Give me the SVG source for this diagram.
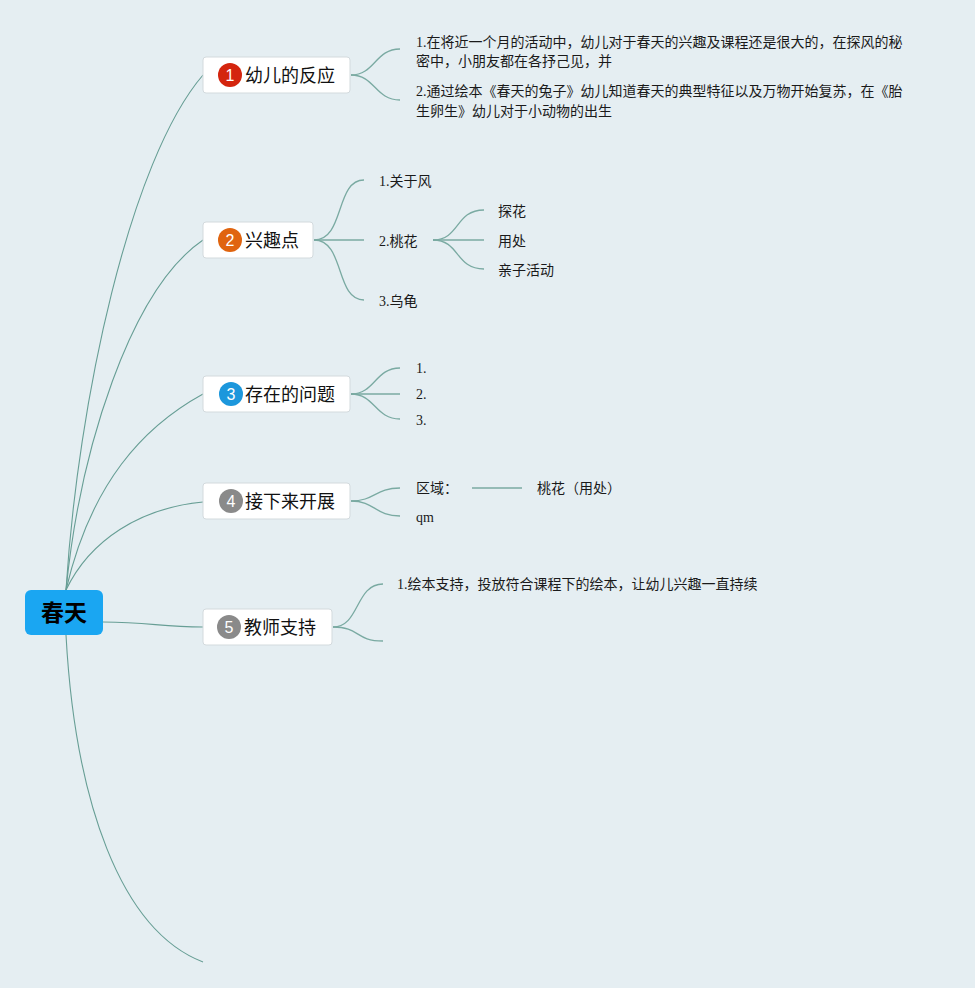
<svg xmlns="http://www.w3.org/2000/svg" width="975" height="988" viewBox="0 0 975 988">
<style>
.bg{fill:#e5eef2}
.box{fill:#ffffff;stroke:#d3dadd;stroke-width:1}
.root{fill:#1aa6f2}
.rt{font-family:"Noto Sans CJK SC",sans-serif;font-size:23px;font-weight:bold;fill:#000;text-anchor:middle}
.mt{font-family:"Noto Sans CJK SC",sans-serif;font-size:18px;fill:#111}
.bn{font-family:"Liberation Sans","Noto Sans",sans-serif;font-size:16px;fill:#fff;text-anchor:middle}
.st{font-family:"Liberation Serif","Noto Sans CJK SC",serif;font-size:14px;fill:#1a1a1a}
.cn{fill:none;stroke:#679e95;stroke-width:1.1}
.cs{fill:none;stroke:#7aaaa2;stroke-width:1.3}
</style>
<rect class="bg" x="0" y="0" width="975" height="988"/>
<g id="connectors">
<path class="cn" d="M66,590 C78,400 130,160 203,75"/>
<path class="cn" d="M66,590 C80,450 130,290 203,240"/>
<path class="cn" d="M66,590 C91,483 143,427 203,394"/>
<path class="cn" d="M66,590 C90,540 140,508 203,502"/>
<path class="cn" d="M103,622 C150,622 160,627 203,627"/>
<path class="cn" d="M66,635 C75,800 120,930 203,962"/>
<path class="cs" d="M351,75 C375,75 375,49 400,49"/>
<path class="cs" d="M351,75 C375,75 375,100 400,100"/>
<path class="cs" d="M314,240 C345,240 335,180 364,180"/>
<path class="cs" d="M314,240 L364,240"/>
<path class="cs" d="M314,240 C345,240 335,300 364,300"/>
<path class="cs" d="M433,240 C460,240 455,210 484,210"/>
<path class="cs" d="M433,240 L484,240"/>
<path class="cs" d="M433,240 C460,240 455,269 484,269"/>
<path class="cs" d="M351,394 C375,394 375,368 400,368"/>
<path class="cs" d="M351,394 L400,394"/>
<path class="cs" d="M351,394 C375,394 375,419 400,419"/>
<path class="cs" d="M351,501 C375,501 375,488 400,488"/>
<path class="cs" d="M351,501 C375,501 375,516 400,516"/>
<path class="cs" d="M472,488 L522,488"/>
<path class="cs" d="M333,627 C360,627 355,584 383,584"/>
<path class="cs" d="M333,627 C360,627 355,641 383,641"/>
</g>
<g id="root">
<rect class="root" x="25" y="590" width="78" height="45" rx="6"/>
<text class="rt" x="64" y="621">春天</text>
</g>
<g id="n1">
<rect class="box" x="203" y="57" width="147" height="36" rx="3"/>
<circle cx="230" cy="75" r="12" fill="#d4250e"/>
<text class="bn" x="230" y="81">1</text>
<text class="mt" x="245" y="81.5">幼儿的反应</text>
</g>
<g id="n1a">
<text class="st" x="416" y="47">1.在将近一个月的活动中，幼儿对于春天的兴趣及课程还是很大的，在探风的秘</text>
<text class="st" x="416" y="66">密中，小朋友都在各抒己见，并</text>
</g>
<g id="n1b">
<text class="st" x="416" y="96">2.通过绘本《春天的兔子》幼儿知道春天的典型特征以及万物开始复苏，在《胎</text>
<text class="st" x="416" y="116">生卵生》幼儿对于小动物的出生</text>
</g>
<g id="n2">
<rect class="box" x="203" y="222" width="110" height="36" rx="3"/>
<circle cx="230" cy="240" r="12" fill="#e0640f"/>
<text class="bn" x="230" y="246">2</text>
<text class="mt" x="245" y="246.5">兴趣点</text>
</g>
<g id="n2a"><text class="st" x="379" y="186">1.关于风</text></g>
<g id="n2b"><text class="st" x="379" y="246">2.桃花</text></g>
<g id="n2c"><text class="st" x="379" y="306">3.乌龟</text></g>
<g id="n2b1"><text class="st" x="498" y="216">探花</text></g>
<g id="n2b2"><text class="st" x="498" y="246">用处</text></g>
<g id="n2b3"><text class="st" x="498" y="275">亲子活动</text></g>
<g id="n3">
<rect class="box" x="203" y="376" width="147" height="36" rx="3"/>
<circle cx="231" cy="394" r="12" fill="#1c97dc"/>
<text class="bn" x="231" y="400">3</text>
<text class="mt" x="245" y="400.5">存在的问题</text>
</g>
<g id="n3a"><text class="st" x="416" y="373">1.</text></g>
<g id="n3b"><text class="st" x="416" y="399">2.</text></g>
<g id="n3c"><text class="st" x="416" y="425">3.</text></g>
<g id="n4">
<rect class="box" x="203" y="483" width="147" height="36" rx="3"/>
<circle cx="231" cy="501" r="12" fill="#8a8a8a"/>
<text class="bn" x="231" y="507">4</text>
<text class="mt" x="245" y="507.5">接下来开展</text>
</g>
<g id="n4a"><text class="st" x="416" y="493">区域：</text></g>
<g id="n4a1"><text class="st" x="537" y="493">桃花（用处）</text></g>
<g id="n4b"><text class="st" x="416" y="522">qm</text></g>
<g id="n5">
<rect class="box" x="203" y="609" width="129" height="36" rx="3"/>
<circle cx="229" cy="627" r="12" fill="#8a8a8a"/>
<text class="bn" x="229" y="633">5</text>
<text class="mt" x="244" y="633.5">教师支持</text>
</g>
<g id="n5a"><text class="st" x="397" y="589">1.绘本支持，投放符合课程下的绘本，让幼儿兴趣一直持续</text></g>
</svg>
